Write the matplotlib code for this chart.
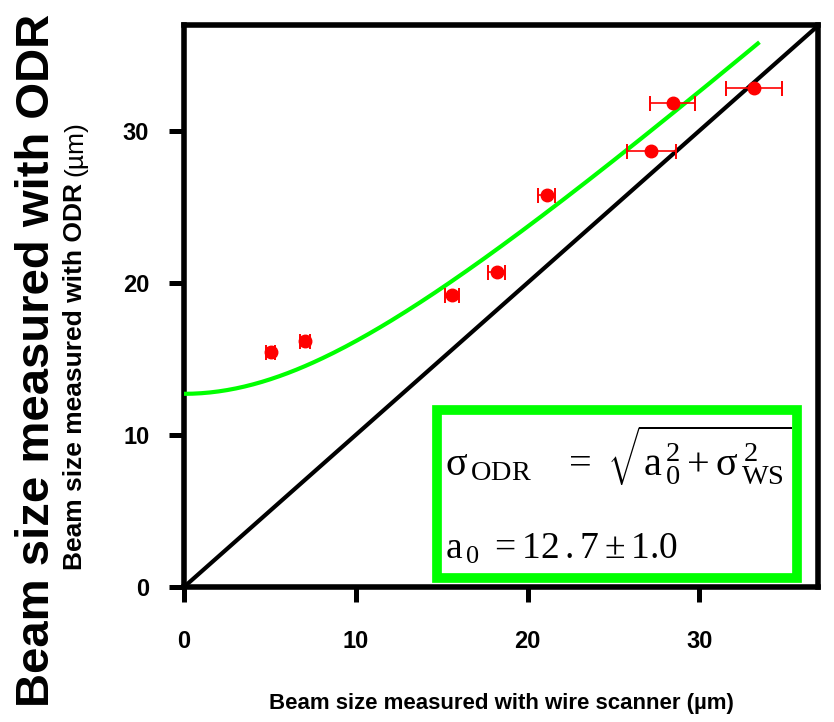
import numpy as np
import matplotlib
matplotlib.use("Agg")
import matplotlib.pyplot as plt
from matplotlib.patches import Rectangle

plt.rcParams['font.family'] = ['Liberation Sans', 'DejaVu Sans']
plt.rcParams['mathtext.fontset'] = 'custom'
plt.rcParams['mathtext.rm'] = 'Liberation Serif'
plt.rcParams['mathtext.it'] = 'Liberation Serif'
plt.rcParams['mathtext.bf'] = 'Liberation Serif:bold'

# --- data ---
ws_size = [5.05, 7.05, 15.6, 18.2, 21.1, 27.2, 28.45, 33.2]      # wire scanner (um)
ws_err = [0.26, 0.29, 0.39, 0.51, 0.52, 1.42, 1.31, 1.63]
odr_size = [15.45, 16.2, 19.2, 20.7, 25.75, 28.65, 31.85, 32.8]  # ODR (um)
a0 = 12.7
a0_err = 1.0
fit_xmax = 33.4

fig = plt.figure(figsize=(8.34, 7.22), dpi=100)
ax = fig.add_axes([0.2206, 0.187, 0.7602, 0.7784])

# y = x reference line
diag = np.array([0, 40])
ax.plot(diag, diag, color='black', lw=3, zorder=2)

# fit curve sigma_ODR = sqrt(a0^2 + sigma_WS^2)
xf = np.linspace(0, fit_xmax, 200)
ax.plot(xf, np.sqrt(a0**2 + xf**2), color='#00ff00', lw=3, zorder=3)

ax.errorbar(ws_size, odr_size, xerr=ws_err, fmt='o', color='#ff0000',
            ms=9, elinewidth=1.2, capsize=5.4, capthick=1.4, zorder=4)

# formula box
ax.add_patch(Rectangle((14.71, 0.59), 35.7 - 14.71, 11.64 - 0.59, fill=False,
                       edgecolor='#00ff00', lw=7, zorder=5))
ax.text(15.2, 7.3,
        r'$\sigma_{\,\mathrm{ODR}}\ \ \ =\ \sqrt{\mathrm{a}_{\,0}^{\,2}+\sigma_{\,\mathrm{WS}}^{\,2}}$',
        fontsize=29, va='baseline', ha='left', zorder=6)
ax.text(15.2, 1.84, r'$\mathrm{a}_{\,0}\ =%s\,%s\pm%s$' % (str(a0)[:2], str(a0)[2:], a0_err),
        fontsize=27, va='baseline', ha='left', zorder=6)

ax.set_xlim(0, 36.9)
ax.set_ylim(0, 36.95)
ax.set_xticks([0, 10, 20, 30])
ax.set_yticks([0, 10, 20, 30])
for s in ax.spines.values():
    s.set_linewidth(4)
ax.tick_params(direction='out', length=11, width=3.6, labelsize=17)
ax.tick_params(axis='y', pad=14)
ax.tick_params(axis='x', pad=20)
for lab in ax.get_xticklabels() + ax.get_yticklabels():
    lab.set_fontweight('bold')

# axis labels
fig.text(0.6013, 0.0263, 'Beam size measured with wire scanner (µm)',
         fontsize=16, fontweight='bold', ha='center', va='center')
fig.text(0.044, 0.5014, 'Beam size measured with ODR',
         fontsize=34, fontweight='bold', rotation=90, ha='center', va='center')
t1 = fig.text(75 / 834, 1 - 570 / 722, 'Beam size measured with ODR',
              fontsize=19, fontweight='bold', rotation=90,
              rotation_mode='anchor', ha='left', va='center')
fig.canvas.draw()
bb = t1.get_window_extent()
fig.text(75 / 834, (bb.y1 + 7) / fig.bbox.height, '(µm)',
         fontsize=19, rotation=90, rotation_mode='anchor', ha='left', va='center')

fig.savefig('out.png', dpi=100)
plt.close(fig)
print("done")
